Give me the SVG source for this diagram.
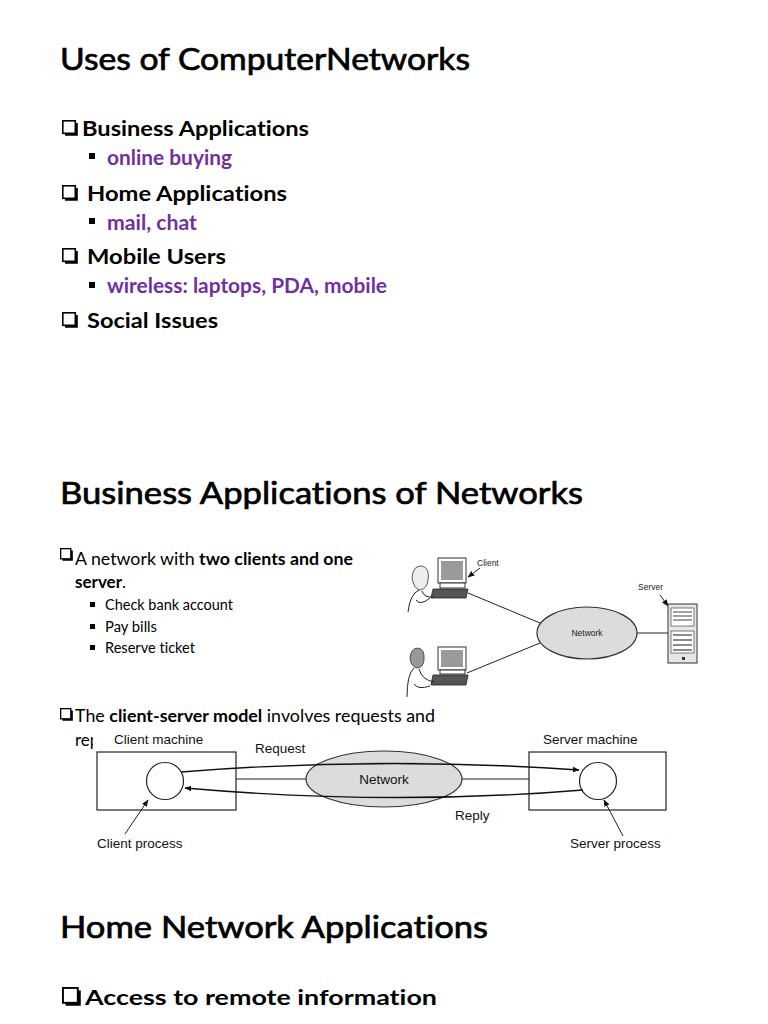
<svg xmlns="http://www.w3.org/2000/svg" width="768" height="1024" viewBox="0 0 768 1024">
<style>
text{font-variant-ligatures:none}
.title{font-family:Lato,"Liberation Sans",sans-serif;font-size:31px;fill:#000;stroke:#000;stroke-width:0.7}
.h1{font-family:Lato,"Liberation Sans",sans-serif;font-size:21px;font-weight:bold;fill:#000}
.sub{font-family:Lato,"Liberation Sans",sans-serif;font-size:20px;font-weight:bold;fill:#7030A0}
.b2{font-family:Lato,"Liberation Sans",sans-serif;font-size:17px;fill:#000}
.b3{font-family:Lato,"Liberation Sans",sans-serif;font-size:14.5px;fill:#000}
.lbl{font-family:"Liberation Sans",Arial,sans-serif;font-size:13.5px;fill:#111}
.sm{font-family:"Liberation Sans",Arial,sans-serif;font-size:8.5px;fill:#222}
.ln{stroke:#222;stroke-width:1;fill:none}
.ln2{stroke:#111;stroke-width:1.4;fill:none}
.net{fill:#dcdcdc;stroke:#333;stroke-width:1.2}
.box{fill:#fff;stroke:#222;stroke-width:1.2}
</style>
<defs>
<symbol id="cb" viewBox="0 0 16 16" overflow="visible">
<rect x="0.8" y="0.8" width="12.5" height="12.5" fill="none" stroke="#000" stroke-width="1.6"/>
<path d="M3,14.6 H14.6 V3" fill="none" stroke="#000" stroke-width="2.4"/>
</symbol>
<marker id="ah" viewBox="0 0 10 10" refX="9" refY="5" markerWidth="7" markerHeight="7" orient="auto-start-reverse" markerUnits="userSpaceOnUse">
<path d="M0,1 L10,5 L0,9 Z" fill="#111"/>
</marker>
<clipPath id="repclip"><rect x="60" y="730" width="33" height="24"/></clipPath>
</defs>
<rect width="768" height="1024" fill="#fff"/>

<!-- Slide 1 -->
<g id="slide1">
<text class="title" x="60" y="70" textLength="410" lengthAdjust="spacingAndGlyphs">Uses of ComputerNetworks</text>
<use href="#cb" x="62" y="120" width="16" height="16"/>
<text class="h1" x="82" y="136" textLength="227" lengthAdjust="spacingAndGlyphs">Business Applications</text>
<rect x="89" y="153" width="6" height="6" fill="#000"/>
<text class="sub" x="107" y="165" textLength="125" lengthAdjust="spacingAndGlyphs">online buying</text>
<use href="#cb" x="62" y="185" width="16" height="16"/>
<text class="h1" x="87" y="201" textLength="200" lengthAdjust="spacingAndGlyphs">Home Applications</text>
<rect x="89" y="218" width="6" height="6" fill="#000"/>
<text class="sub" x="107" y="230" textLength="90" lengthAdjust="spacingAndGlyphs">mail, chat</text>
<use href="#cb" x="62" y="248" width="16" height="16"/>
<text class="h1" x="87" y="264" textLength="139" lengthAdjust="spacingAndGlyphs">Mobile Users</text>
<rect x="89" y="282" width="6" height="6" fill="#000"/>
<text class="sub" x="107" y="293" textLength="280" lengthAdjust="spacingAndGlyphs">wireless: laptops, PDA, mobile</text>
<use href="#cb" x="62" y="312" width="16" height="16"/>
<text class="h1" x="87" y="328" textLength="131" lengthAdjust="spacingAndGlyphs">Social Issues</text>
</g>

<!-- Slide 2 -->
<g id="slide2">
<text class="title" x="60" y="504" textLength="523" lengthAdjust="spacingAndGlyphs">Business Applications of Networks</text>
<use href="#cb" x="60" y="548" width="13" height="13"/>
<text class="b2" x="75" y="565" textLength="278" lengthAdjust="spacingAndGlyphs">A network with <tspan font-weight="bold">two clients and one</tspan></text>
<text class="b2" x="75" y="588"><tspan font-weight="bold">server</tspan>.</text>
<rect x="90" y="602" width="5" height="5" fill="#000"/>
<text class="b3" x="105" y="610" textLength="128" lengthAdjust="spacingAndGlyphs">Check bank account</text>
<rect x="90" y="624" width="5" height="5" fill="#000"/>
<text class="b3" x="105" y="632" textLength="52" lengthAdjust="spacingAndGlyphs">Pay bills</text>
<rect x="90" y="645" width="5" height="5" fill="#000"/>
<text class="b3" x="105" y="653" textLength="90" lengthAdjust="spacingAndGlyphs">Reserve ticket</text>
<use href="#cb" x="60" y="708" width="13" height="13"/>
<text class="b2" x="75" y="722" textLength="360" lengthAdjust="spacingAndGlyphs">The <tspan font-weight="bold">client-server model</tspan> involves requests and</text>
<text class="b2" x="75" y="746" clip-path="url(#repclip)">rep</text>
</g>

<!-- Figure 1: two clients and one server -->
<g id="fig1">
<g id="fig1-connectors">
<line class="ln" x1="468" y1="593" x2="540" y2="623"/>
<line class="ln" x1="467" y1="673" x2="540" y2="643"/>
<line class="ln" x1="637" y1="633" x2="669" y2="633"/>
<line class="ln" x1="480" y1="568" x2="468" y2="577" marker-end="url(#ah)"/>
<line class="ln" x1="660" y1="595" x2="668" y2="606" marker-end="url(#ah)"/>
</g>
<g id="client1">
<rect x="438" y="558" width="28" height="25" fill="#fff" stroke="#333"/>
<rect x="441" y="561" width="22" height="19" fill="#9a9a9a"/>
<rect x="440" y="583" width="25" height="5" fill="#fff" stroke="#333"/>
<path d="M433,589 H468 L466,598 H431 Z" fill="#555" stroke="#222" stroke-width="0.8"/>
<path d="M412,578 Q413,565 422,566 Q430,568 428,580 Q427,589 420,590 Q414,589 412,578 Z" fill="#eee" stroke="#333" stroke-width="0.8"/>
<path d="M419,590 Q410,594 408,612 M422,591 Q424,598 434,597 M416,600 Q420,606 430,598" class="ln" stroke-width="0.8"/>
<text class="sm" x="477" y="566">Client</text>
</g>
<g id="client2">
<rect x="438" y="647" width="28" height="23" fill="#fff" stroke="#333"/>
<rect x="441" y="650" width="22" height="17" fill="#9a9a9a"/>
<rect x="440" y="670" width="25" height="4" fill="#fff" stroke="#333"/>
<path d="M433,675 H468 L466,685 H431 Z" fill="#555" stroke="#222" stroke-width="0.8"/>
<path d="M410,658 Q411,648 418,648 Q425,649 424,660 Q423,668 417,668 Q411,667 410,658 Z" fill="#999" stroke="#333" stroke-width="0.8"/>
<path d="M414,668 Q407,674 407,697 M419,669 Q422,680 434,682 M414,684 Q418,690 430,686" class="ln" stroke-width="0.8"/>
</g>
<g id="network1">
<ellipse class="net" cx="587" cy="633" rx="50" ry="26"/>
<text class="sm" x="587" y="636" text-anchor="middle">Network</text>
</g>
<g id="server1">
<text class="sm" x="638" y="590">Server</text>
<rect x="668" y="604" width="29" height="59" fill="#e6e6e6" stroke="#333"/>
<rect x="671" y="608" width="23" height="18" fill="#fff" stroke="#444" stroke-width="0.7"/>
<path d="M673,612 H692 M673,616 H692 M673,620 H692" stroke="#444" stroke-width="1.2"/>
<rect x="671" y="631" width="23" height="22" fill="#fff" stroke="#444" stroke-width="0.7"/>
<path d="M673,635 H692 M673,640 H692 M673,645 H692 M673,650 H692" stroke="#666" stroke-width="1.5"/>
<rect x="682" y="657" width="3" height="3" fill="#333"/>
</g>
</g>

<!-- Figure 2: client-server model -->
<g id="fig2">
<g id="client-machine">
<rect class="box" x="97" y="752" width="139" height="58"/>
<text class="lbl" x="114" y="744">Client machine</text>
<circle cx="165" cy="781" r="18.5" fill="#fff" stroke="#222" stroke-width="1.2"/>
</g>
<g id="server-machine">
<rect class="box" x="529" y="752" width="137" height="58"/>
<text class="lbl" x="543" y="744">Server machine</text>
<circle cx="598" cy="781" r="18.5" fill="#fff" stroke="#222" stroke-width="1.2"/>
</g>
<g id="network2">
<ellipse class="net" cx="384" cy="779" rx="78" ry="28"/>
<text class="lbl" x="384" y="784" text-anchor="middle">Network</text>
</g>
<g id="fig2-connectors">
<line class="ln" x1="236" y1="779" x2="306" y2="779"/>
<line class="ln" x1="462" y1="779" x2="529" y2="779"/>
<path class="ln2" d="M181,772 Q380,756 579,770" marker-end="url(#ah)"/>
<path class="ln2" d="M583,790 Q390,806 185,788" marker-end="url(#ah)"/>
<line class="ln" x1="125" y1="834" x2="148" y2="800" marker-end="url(#ah)"/>
<line class="ln" x1="623" y1="836" x2="604" y2="800" marker-end="url(#ah)"/>
<text class="lbl" x="255" y="753">Request</text>
<text class="lbl" x="455" y="820">Reply</text>
<text class="lbl" x="97" y="848">Client process</text>
<text class="lbl" x="570" y="848">Server process</text>
</g>
</g>

<!-- Slide 3 -->
<g id="slide3">
<text class="title" x="60" y="938" textLength="428" lengthAdjust="spacingAndGlyphs">Home Network Applications</text>
<use href="#cb" x="62" y="987" width="19" height="19"/>
<text class="h1" x="85" y="1005" font-size="25" textLength="352" lengthAdjust="spacingAndGlyphs">Access to remote information</text>
</g>
</svg>
